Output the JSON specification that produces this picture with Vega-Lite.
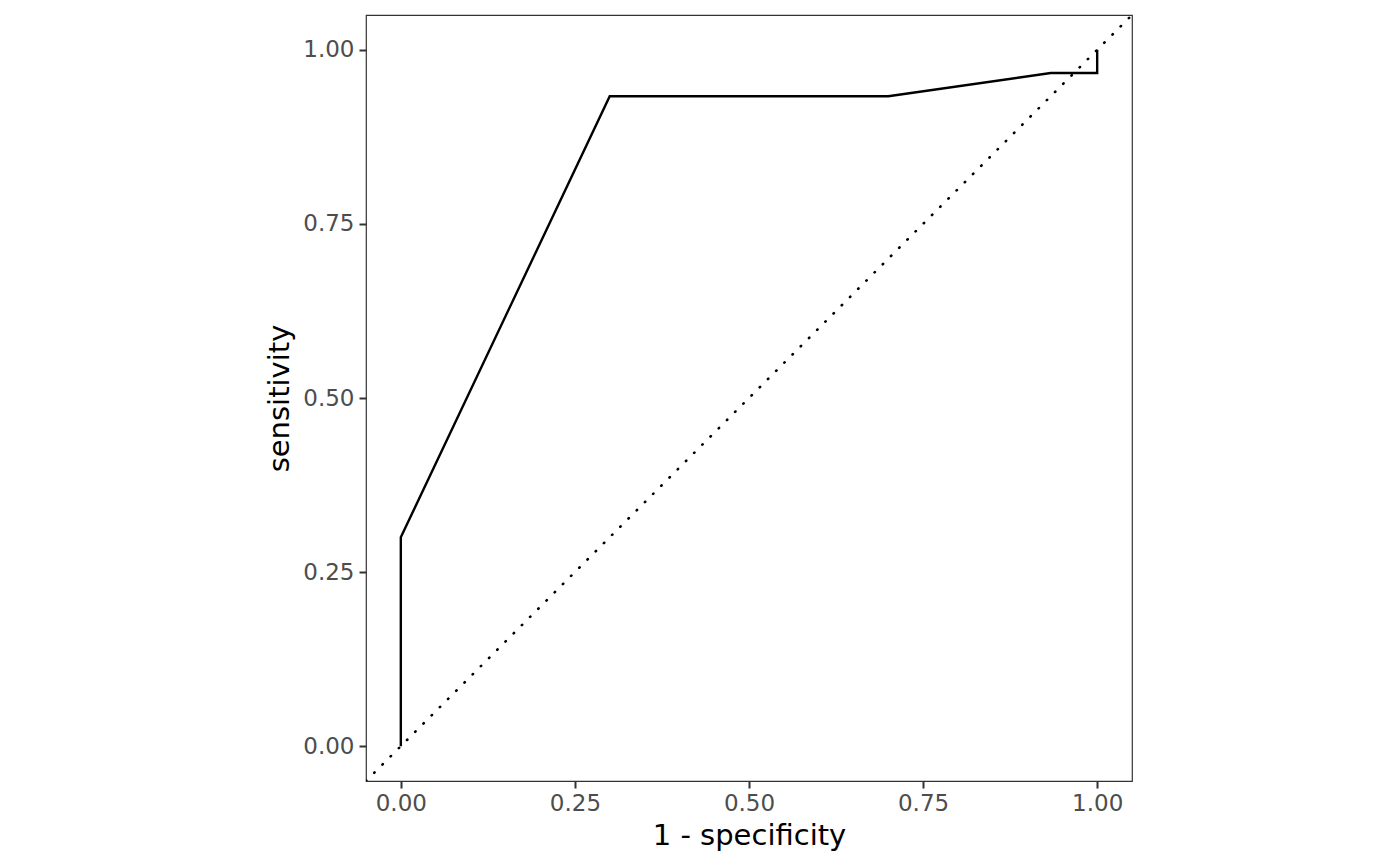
{
  "$schema": "https://vega.github.io/schema/vega-lite/v6.json",
  "autosize": "none",
  "width": 766,
  "height": 766,
  "padding": {"left": 366, "top": 15, "right": 268, "bottom": 85},
  "background": "white",
  "config": {
    "font": "DejaVu Sans",
    "view": {"stroke": "#333333", "strokeWidth": 1.2},
    "axis": {
      "grid": false,
      "domain": false,
      "ticks": true,
      "tickColor": "#333333",
      "tickWidth": 2,
      "tickSize": 7,
      "labelFont": "DejaVu Sans",
      "labelFontSize": 23,
      "labelColor": "#4D4D4D",
      "titleFont": "DejaVu Sans",
      "titleFontSize": 29,
      "titleFontWeight": "normal",
      "titleColor": "#000000"
    }
  },
  "datasets": {
    "roc": [
      {"i": 1, "fpr": 0.0, "tpr": 0.0},
      {"i": 2, "fpr": 0.0, "tpr": 0.3},
      {"i": 3, "fpr": 0.3, "tpr": 0.9333},
      {"i": 4, "fpr": 0.7, "tpr": 0.9333},
      {"i": 5, "fpr": 0.9333, "tpr": 0.9667},
      {"i": 6, "fpr": 1.0, "tpr": 0.9667},
      {"i": 7, "fpr": 1.0, "tpr": 1.0}
    ],
    "diag": [
      {"i": 1, "fpr": -0.05, "tpr": -0.05},
      {"i": 2, "fpr": 1.05, "tpr": 1.05}
    ]
  },
  "layer": [
    {
      "data": {"name": "diag"},
      "mark": {"type": "line", "color": "black", "strokeWidth": 2.6, "strokeDash": [0.5, 11.1], "strokeCap": "round", "clip": true},
      "encoding": {
        "x": {"field": "fpr", "type": "quantitative"},
        "y": {"field": "tpr", "type": "quantitative"},
        "order": {"field": "i"}
      }
    },
    {
      "data": {"name": "roc"},
      "mark": {"type": "line", "color": "black", "strokeWidth": 2.4},
      "encoding": {
        "x": {
          "field": "fpr",
          "type": "quantitative",
          "title": "1 - specificity",
          "scale": {"domain": [-0.05, 1.05], "nice": false, "zero": false},
          "axis": {"values": [0, 0.25, 0.5, 0.75, 1], "format": ".2f", "labelPadding": 4, "titlePadding": 6}
        },
        "y": {
          "field": "tpr",
          "type": "quantitative",
          "title": "sensitivity",
          "scale": {"domain": [-0.05, 1.05], "nice": false, "zero": false},
          "axis": {"values": [0, 0.25, 0.5, 0.75, 1], "format": ".2f", "labelPadding": 5, "titlePadding": 8}
        },
        "order": {"field": "i"}
      }
    }
  ]
}
